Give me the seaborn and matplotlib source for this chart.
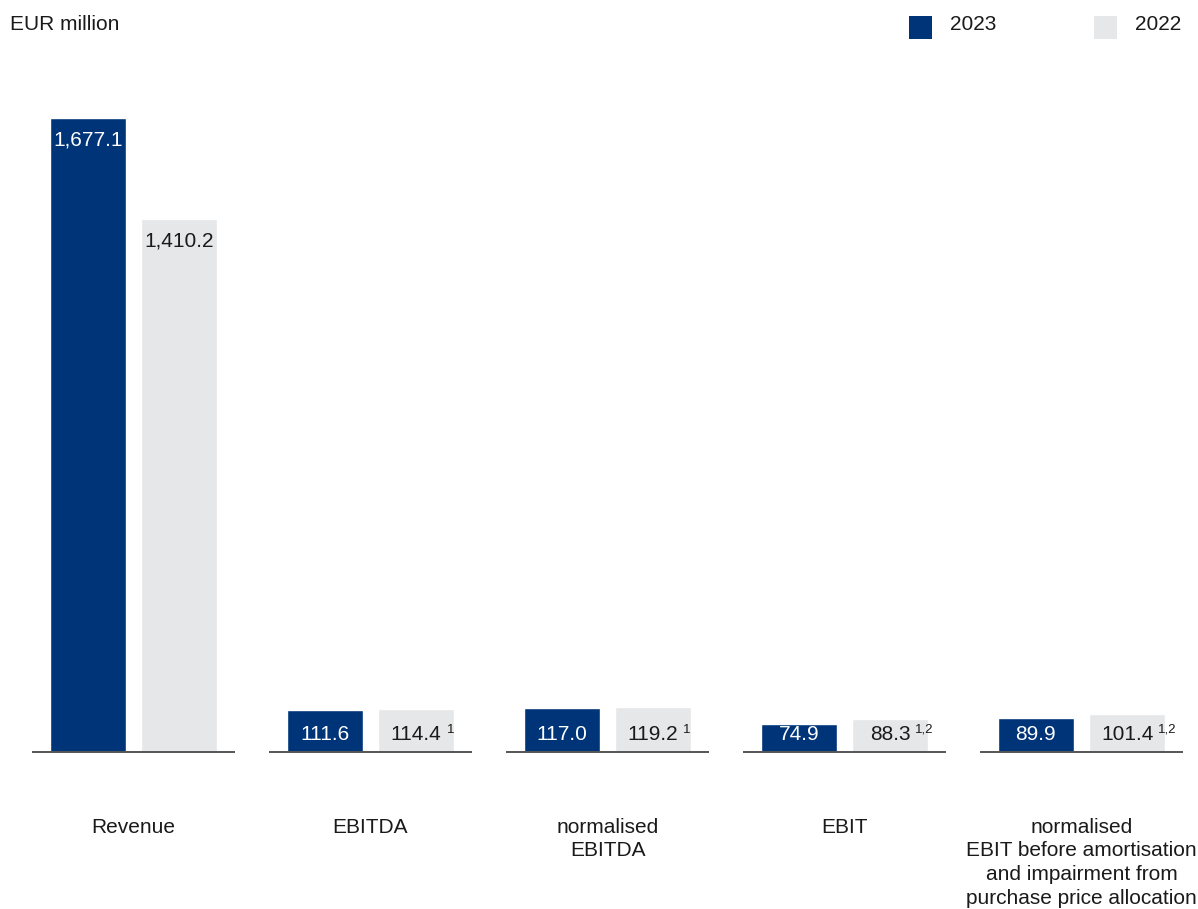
import matplotlib
matplotlib.use("Agg")
import matplotlib.pyplot as plt
from matplotlib.patches import Rectangle
import matplotlib.transforms as mtransforms
import seaborn as sns
import pandas as pd

categories = ["Revenue", "EBITDA", "normalised\nEBITDA", "EBIT",
              "normalised\nEBIT before amortisation\nand impairment from\npurchase price allocation"]
years = ["2023", "2022"]
values_2023 = [1677.1, 111.6, 117.0, 74.9, 89.9]
values_2022 = [1410.2, 114.4, 119.2, 88.3, 101.4]
labels_2023 = ["1,677.1", "111.6", "117.0", "74.9", "89.9"]
labels_2022 = ["1,410.2", "114.4", "119.2", "88.3", "101.4"]
footnotes_2022 = ["", "1", "1", "1,2", "1,2"]

BLUE = "#003479"
GREY = "#e6e7e8"
TXT = "#1a1a1a"

sns.set_theme(style="white")
plt.rcParams["font.family"] = ["Liberation Sans", "DejaVu Sans"]

df = pd.DataFrame({
    "category": categories * 2,
    "year": ["2023"] * 5 + ["2022"] * 5,
    "value": values_2023 + values_2022,
})

W, H = 1198, 909
fig = plt.figure(figsize=(W / 100, H / 100), dpi=100)
ax = fig.add_axes([15 / W, 157 / H, 1185 / W, 680.5 / H])

sns.barplot(data=df, x="category", y="value", hue="year", hue_order=years,
            palette=[BLUE, GREY], width=0.77, gap=0.17, ax=ax,
            legend=False, saturation=1, errorbar=None)

ax.set_xlim(-0.5, 4.5)
ax.set_ylim(0, 1800)
ax.axis("off")

# baseline segments
for i in range(len(categories)):
    ax.plot([i - 0.43, i + 0.43], [0, 0], color="#555555", lw=1.4,
            solid_capstyle="butt", clip_on=False, zorder=3)

fs = 15
fig.canvas.draw()
for container, labels, col, notes in zip(ax.containers, [labels_2023, labels_2022],
                                         ["white", TXT],
                                         [[""] * 5, footnotes_2022]):
    for bar, lab, note in zip(container, labels, notes):
        x = bar.get_x() + bar.get_width() / 2
        h = bar.get_height()
        hp = ax.transData.transform((0, h))[1] - ax.transData.transform((0, 0))[1]
        if hp < 60:
            ypt, off = 0, 18
        else:
            ypt, off = h, -22
        t = ax.annotate(lab, (x, ypt), xytext=(0, off), textcoords="offset pixels",
                        ha="center", va="center", color=col, fontsize=fs)
        if note:
            fig.canvas.draw()
            bb = t.get_window_extent()
            ax.annotate(note, (x, ypt), xytext=(bb.width / 2 + 5, off + 4),
                        textcoords="offset pixels", ha="left", va="center",
                        color=TXT, fontsize=9.5)

# category labels
shift = mtransforms.ScaledTranslation(0, -66 / 100, fig.dpi_scale_trans)
for i, c in enumerate(categories):
    ax.text(i, 0, c, transform=ax.transData + shift,
            ha="center", va="top", fontsize=fs, color=TXT, linespacing=1.3)

fig.text(10 / W, 1 - 25 / H, "EUR million", ha="left", va="center", fontsize=fs, color=TXT)

# legend
for x0, col, lab in [(909, BLUE, "2023"), (1094, GREY, "2022")]:
    fig.patches.append(Rectangle((x0 / W, 1 - 39 / H), 23 / W, 23 / H,
                                 transform=fig.transFigure, facecolor=col,
                                 edgecolor="none", figure=fig))
    fig.text((x0 + 41) / W, 1 - 25 / H, lab, ha="left", va="center",
             fontsize=fs, color=TXT)

fig.savefig("out.png", dpi=100)
